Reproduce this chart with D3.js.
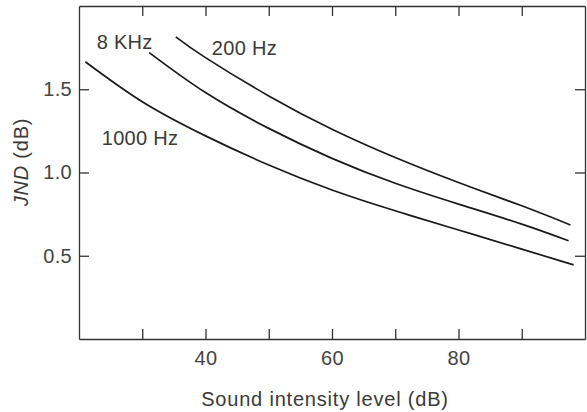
<!DOCTYPE html>
<html lang="en">
<head>
<meta charset="UTF-8">
<title>JND vs sound intensity level</title>
<script src="https://d3js.org/d3.v7.min.js"></script>
<style>
    body { margin: 0; background: #fff; }
    svg { display: block; font-family: "Liberation Sans", Arial, Helvetica, sans-serif; }
    .axis path, .axis line { stroke: #333; stroke-width: 1.3px; }
    .axis text { fill: #444; font-size: 20px; letter-spacing: 0.3px; }
    .curve { fill: none; stroke: #1a1a1a; stroke-width: 1.7px; }
    .note { fill: #3a3a3a; font-size: 20px; letter-spacing: 0.3px; }
    .title { fill: #3a3a3a; font-size: 20px; letter-spacing: 0.8px; }
</style>
</head>
<body>
<svg id="chart" width="587" height="412"></svg>
<script>
    // values
    const level1000 = [21, 30, 40, 50, 60, 70, 80, 90, 98.2];
    const jnd1000   = [1.665, 1.425, 1.22, 1.045, 0.895, 0.77, 0.655, 0.54, 0.445];
    const level8k   = [31.1, 40, 50, 60, 70, 80, 90, 97.4];
    const jnd8k     = [1.72, 1.48, 1.265, 1.085, 0.935, 0.81, 0.69, 0.59];
    const level200  = [35.3, 40, 50, 60, 70, 80, 90, 97.7];
    const jnd200    = [1.815, 1.69, 1.46, 1.26, 1.09, 0.94, 0.8, 0.685];

    const xTicks = [30, 40, 50, 60, 70, 80, 90];
    const xLabels = [40, 60, 80];
    const yTicks = [0.5, 1.0, 1.5];

    const seriesNames = ["1000 Hz", "8 KHz", "200 Hz"];
    // label anchor (level, jnd) for each series name
    const labelLevel = [23.6, 22.8, 41.0];
    const labelJnd   = [1.21, 1.785, 1.75];

    const margin = { top: 6, right: 2, bottom: 73, left: 79 };
    const width = 587 - margin.left - margin.right;
    const height = 412 - margin.top - margin.bottom;

    const svg = d3.select("#chart");
    const g = svg.append("g").attr("transform", `translate(${margin.left},${margin.top})`);

    const x = d3.scaleLinear().domain([20, 100]).range([0, width]);
    const y = d3.scaleLinear().domain([0, 2]).range([height, 0]);

    // frame with inward ticks on all four sides
    g.append("g").attr("class", "axis")
        .attr("transform", `translate(0,${height})`)
        .call(d3.axisBottom(x).tickValues(xTicks).tickSizeInner(-10).tickSizeOuter(0).tickPadding(12)
            .tickFormat(d => xLabels.includes(d) ? d : ""));
    g.append("g").attr("class", "axis")
        .call(d3.axisTop(x).tickValues(xTicks).tickSizeInner(-10).tickSizeOuter(0).tickFormat(""));
    g.append("g").attr("class", "axis")
        .call(d3.axisLeft(y).tickValues(yTicks).tickSizeInner(-10).tickSizeOuter(0).tickPadding(7)
            .tickFormat(d3.format(".1f")));
    g.append("g").attr("class", "axis")
        .attr("transform", `translate(${width},0)`)
        .call(d3.axisRight(y).tickValues(yTicks).tickSizeInner(-10).tickSizeOuter(0).tickFormat(""));

    const line = d3.line()
        .x(d => x(d[0]))
        .y(d => y(d[1]))
        .curve(d3.curveNatural);

    const series = [
        d3.zip(level1000, jnd1000),
        d3.zip(level8k, jnd8k),
        d3.zip(level200, jnd200)
    ];

    g.selectAll("path.curve")
        .data(series)
        .join("path")
        .attr("class", "curve")
        .attr("d", line);

    g.selectAll("text.note")
        .data(seriesNames)
        .join("text")
        .attr("class", "note")
        .attr("x", (d, i) => x(labelLevel[i]))
        .attr("y", (d, i) => y(labelJnd[i]))
        .attr("dy", "0.35em")
        .text(d => d);

    // axis titles
    svg.append("text")
        .attr("class", "title")
        .attr("x", 325)
        .attr("y", 406)
        .attr("text-anchor", "middle")
        .text("Sound intensity level (dB)");

    const yTitle = svg.append("text")
        .attr("class", "title")
        .attr("transform", "translate(28,162) rotate(-90)")
        .attr("text-anchor", "middle");
    yTitle.append("tspan").style("font-style", "italic").text("JND");
    yTitle.append("tspan").text(" (dB)");
</script>
</body>
</html>
